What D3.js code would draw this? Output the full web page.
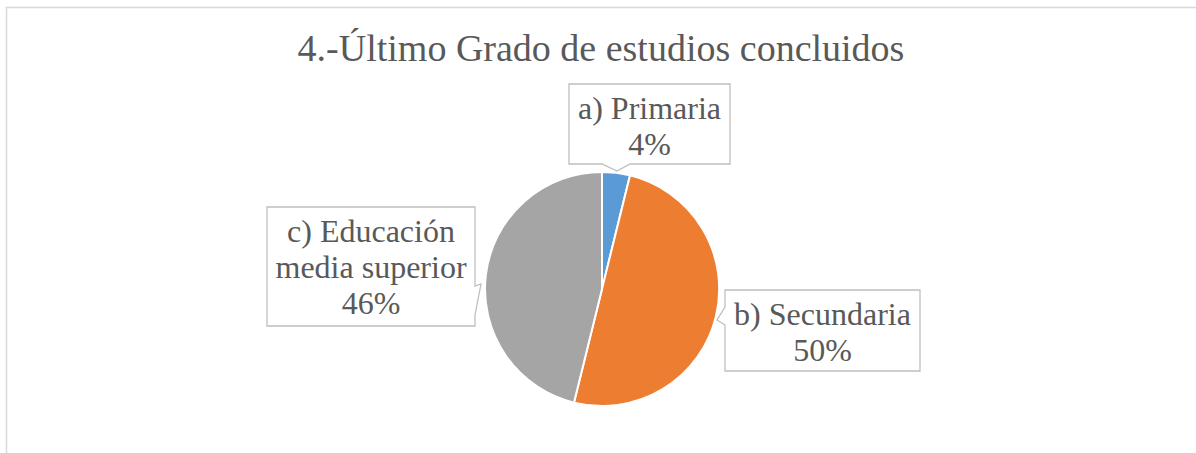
<!DOCTYPE html>
<html>
<head>
<meta charset="utf-8">
<script src="https://cdn.jsdelivr.net/npm/d3@7"></script>
<style>
  html, body { margin: 0; padding: 0; background: #fff; overflow: hidden; }
  svg { display: block; }
  svg text { font-family: "Liberation Serif", "Times New Roman", Times, serif; }
</style>
</head>
<body>
<svg id="chart" width="1196" height="453"></svg>
<script>
// ---- data ----
const title = "4.-Último Grado de estudios concluidos";
const categories = ["a) Primaria", "b) Secundaria", "c) Educación media superior"];
const labelLines = [["a) Primaria"], ["b) Secundaria"], ["c) Educación", "media superior"]];
const counts = [1, 13, 12];
const colors = ["#5B9BD5", "#ED7D31", "#A5A5A5"];

// ---- layout ----
const W = 1196, H = 453;
const cx = 602, cy = 289, R = 117;
const labelSize = 32, lineH = 36;
// callout boxes relative to pie center: [x0,y0,x1,y1], pointer side, notch [a,b], tip [x,y]
const boxes = [
  { b: [-33, -205, 128, -125], side: "bottom", notch: [0, 28], tip: [15, -118] },
  { b: [123, 1, 318, 82], side: "left", notch: [18, 36], tip: [115, 31] },
  { b: [-335, -82, -127, 37], side: "right", notch: [-3, 26], tip: [-121, -5] }
];

const svg = d3.select("#chart");
svg.append("rect").attr("x", 6.5).attr("y", 7.5).attr("width", W + 20).attr("height", H + 20)
  .attr("fill", "#fff").attr("stroke", "#D9D9D9").attr("stroke-width", 1.5);

svg.append("text").attr("x", 601).attr("y", 61).attr("text-anchor", "middle")
  .attr("font-size", 38).attr("fill", "#595959").text(title);

const total = d3.sum(counts);
const pie = d3.pie().sort(null).value(d => d)(counts);
const arc = d3.arc().innerRadius(0).outerRadius(R);
const g = svg.append("g").attr("transform", `translate(${cx},${cy})`);
g.selectAll("path.slice").data(pie).join("path").attr("class", "slice")
  .attr("d", arc).attr("fill", (d, i) => colors[i]).attr("stroke", "#fff").attr("stroke-width", 2);

// callouts
boxes.forEach((bx, i) => {
  const [x0, y0, x1, y1] = bx.b;
  const [na, nb] = bx.notch;
  const [tx, ty] = bx.tip;
  let p = d3.path();
  if (bx.side === "bottom") {
    p.moveTo(x0, y0); p.lineTo(x1, y0); p.lineTo(x1, y1);
    p.lineTo(nb, y1); p.lineTo(tx, ty); p.lineTo(na, y1); p.lineTo(x0, y1); p.closePath();
  } else if (bx.side === "left") {
    p.moveTo(x0, y0); p.lineTo(x1, y0); p.lineTo(x1, y1); p.lineTo(x0, y1);
    p.lineTo(x0, nb); p.lineTo(tx, ty); p.lineTo(x0, na); p.closePath();
  } else {
    p.moveTo(x0, y0); p.lineTo(x1, y0); p.lineTo(x1, na); p.lineTo(tx, ty); p.lineTo(x1, nb);
    p.lineTo(x1, y1); p.lineTo(x0, y1); p.closePath();
  }
  g.append("path").attr("d", p.toString()).attr("fill", "#fff")
    .attr("stroke", "#BFBFBF").attr("stroke-width", 1.3);
  const pct = Math.round(counts[i] / total * 100) + "%";
  const lines = labelLines[i].concat([pct]);
  const t = g.append("text").attr("text-anchor", "middle")
    .attr("font-size", labelSize).attr("fill", "#595959");
  lines.forEach((ln, k) => {
    t.append("tspan").attr("x", (x0 + x1) / 2).attr("y", y0 + 35 + k * lineH).text(ln);
  });
});
</script>
</body>
</html>
